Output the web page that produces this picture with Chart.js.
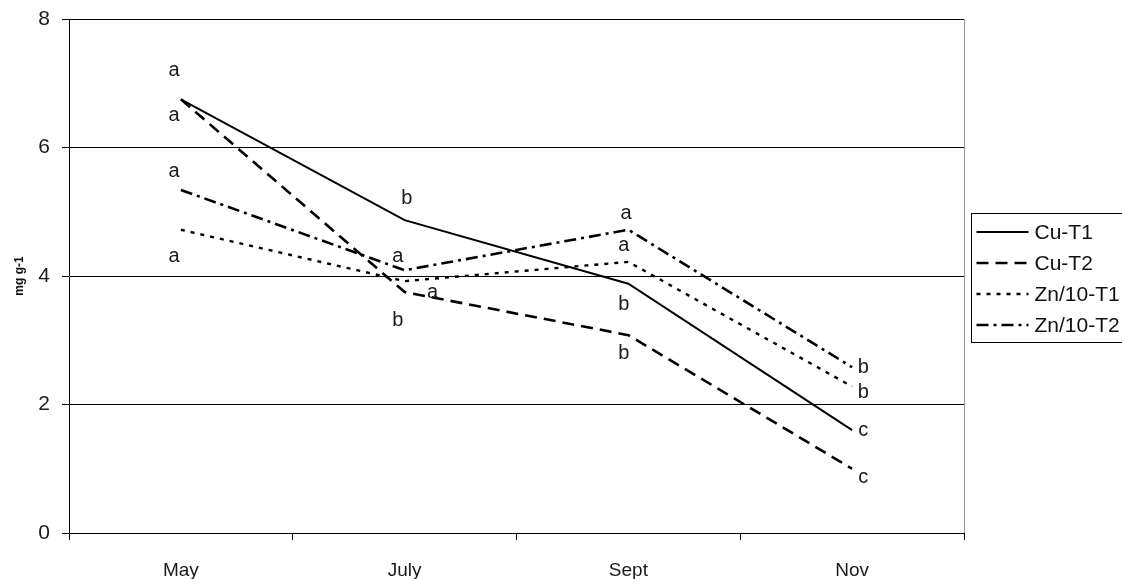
<!DOCTYPE html>
<html>
<head>
<meta charset="utf-8">
<script src="https://cdn.jsdelivr.net/npm/chart.js@4.4.1/dist/chart.umd.min.js"></script>
<style>
  html, body { margin: 0; padding: 0; background: #fff; }
  #wrap { width: 1122px; height: 579px; position: relative; }
</style>
</head>
<body>
<div id="wrap"><canvas id="c" width="1122" height="579"></canvas></div>
<script>
// ---- data ----
const months = ['May', 'July', 'Sept', 'Nov'];
const cuT1 = [6.75, 4.87, 3.88, 1.60];
const cuT2 = [6.75, 3.75, 3.08, 1.00];
const znT1 = [4.72, 3.92, 4.22, 2.28];
const znT2 = [5.34, 4.09, 4.72, 2.58];
const seriesNames = ['Cu-T1', 'Cu-T2', 'Zn/10-T1', 'Zn/10-T2'];
const yTicks = [0, 2, 4, 6, 8];
const yTitle = 'mg g-1';
// significance letters: position in (category index, value) units
const letterText = ['a','a','a','a', 'b','a','a','b', 'a','a','b','b', 'b','b','c','c'];
const letterCat  = [-0.03,-0.03,-0.03,-0.03, 1.01,0.97,1.125,0.97, 1.99,1.98,1.98,1.98, 3.05,3.05,3.05,3.05];
const letterVal  = [7.2,6.5,5.62,4.3, 5.2,4.3,3.75,3.3, 4.98,4.48,3.55,2.8, 2.58,2.18,1.6,0.87];

const FONT = '"Liberation Sans", Arial, sans-serif';

const lettersPlugin = {
  id: 'letters',
  afterDatasetsDraw(chart) {
    const ctx = chart.ctx, xs = chart.scales.x, ys = chart.scales.y;
    ctx.save();
    ctx.fillStyle = '#1a1a1a';
    ctx.font = '20px ' + FONT;
    ctx.textAlign = 'center';
    ctx.textBaseline = 'middle';
    for (let i = 0; i < letterText.length; i++) {
      ctx.fillText(letterText[i], xs.getPixelForValue(letterCat[i]), ys.getPixelForValue(letterVal[i]));
    }
    ctx.restore();
  }
};

const frameLegendPlugin = {
  id: 'frameLegend',
  afterDraw(chart) {
    const ctx = chart.ctx, a = chart.chartArea;
    ctx.save();
    // right border of plot area
    ctx.strokeStyle = '#999';
    ctx.lineWidth = 1;
    ctx.beginPath();
    ctx.moveTo(Math.round(a.right) + 0.5, a.top);
    ctx.lineTo(Math.round(a.right) + 0.5, a.bottom);
    ctx.stroke();
    // legend box
    const bx = a.right + 7.5, by = 213.5, bw = 200, bh = 129;
    ctx.strokeStyle = '#000';
    ctx.strokeRect(bx, by, bw, bh);
    ctx.font = '21px ' + FONT;
    ctx.textBaseline = 'middle';
    ctx.textAlign = 'left';
    chart.data.datasets.forEach((ds, i) => {
      const y = by + 18.5 + i * 31;
      ctx.save();
      ctx.strokeStyle = '#000';
      ctx.lineWidth = ds.borderWidth;
      ctx.setLineDash(ds.borderDash || []);
      ctx.beginPath();
      ctx.moveTo(bx + 5, y);
      ctx.lineTo(bx + 57, y);
      ctx.stroke();
      ctx.restore();
      ctx.fillStyle = '#111';
      ctx.fillText(ds.label, bx + 63, y + 1);
    });
    ctx.restore();
  }
};

const mk = (label, data, dash, w) => ({
  label, data,
  borderColor: '#000',
  backgroundColor: '#000',
  borderWidth: w,
  borderDash: dash,
  pointRadius: 0,
  tension: 0,
  fill: false
});

new Chart(document.getElementById('c'), {
  type: 'line',
  data: {
    labels: months,
    datasets: [
      mk(seriesNames[0], cuT1, [], 2),
      mk(seriesNames[1], cuT2, [12, 7], 2.6),
      mk(seriesNames[2], znT1, [4, 6], 2.4),
      mk(seriesNames[3], znT2, [12, 5, 3, 5], 2.6)
    ]
  },
  options: {
    responsive: false,
    animation: false,
    devicePixelRatio: 1,
    layout: { padding: { top: 19, right: 158, left: 0, bottom: 0 } },
    plugins: {
      legend: { display: false },
      tooltip: { enabled: false }
    },
    scales: {
      x: {
        type: 'category',
        offset: true,
        afterFit(s) { s.height = 46; s.paddingLeft = 0; s.paddingRight = 0; },
        grid: {
          display: true,
          offset: true,
          drawOnChartArea: false,
          drawTicks: true,
          tickLength: 7,
          color: '#000'
        },
        border: { display: true, color: '#000', width: 1 },
        ticks: {
          color: '#1a1a1a',
          font: { family: FONT, size: 19 },
          padding: 19
        }
      },
      y: {
        min: 0, max: 8,
        afterFit(s) { s.width = 69; s.paddingTop = 0; s.paddingBottom = 0; },
        afterBuildTicks(s) { s.ticks = yTicks.map(v => ({ value: v })); },
        grid: {
          color: '#000',
          lineWidth: 1,
          drawTicks: true,
          tickLength: 7
        },
        border: { display: true, color: '#000', width: 1 },
        ticks: {
          color: '#1a1a1a',
          font: { family: FONT, size: 21 },
          padding: 12
        },
        title: {
          display: true,
          text: yTitle,
          color: '#111',
          font: { family: FONT, size: 12, weight: 'bold' },
          padding: { top: 12, bottom: 0 }
        }
      }
    }
  },
  plugins: [lettersPlugin, frameLegendPlugin]
});
</script>
</body>
</html>
